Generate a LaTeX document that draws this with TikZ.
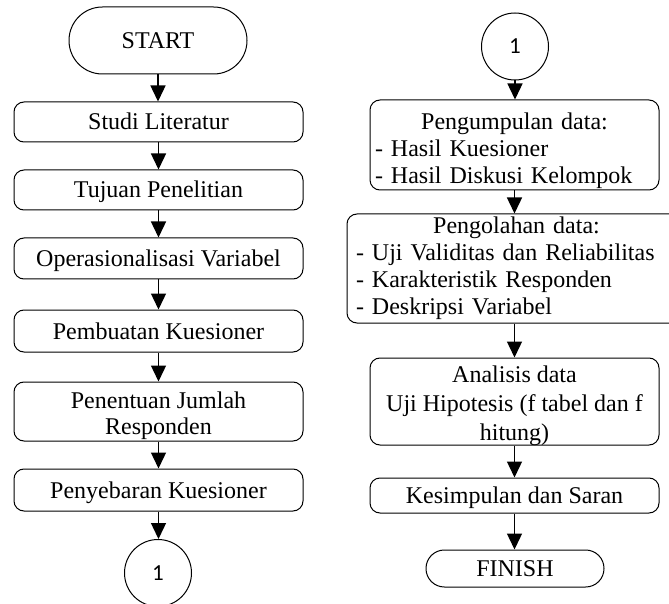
\documentclass[tikz,border=0pt]{standalone}
\usepackage{fontspec}
\setmainfont{Liberation Serif}
\newfontfamily\digitfont{Carlito}
\usetikzlibrary{arrows.meta}
\setlength\parindent{0pt}
\begin{document}
\begin{tikzpicture}[x=0.5pt,y=-0.5pt,
  font=\fontsize{12pt}{13.5pt}\selectfont,
  box/.style={draw, line width=0.5pt, rounded corners=5pt, inner sep=0pt,
    minimum width=144.5pt, text height=9pt, text depth=1pt},
  emptybox/.style={draw, line width=0.5pt, rounded corners=5pt, inner sep=0pt},
  txt/.style={inner sep=0pt},
  term/.style={draw, line width=0.5pt, inner sep=0pt, minimum width=89pt,
    text height=9pt, text depth=1pt},
  conn/.style={draw, circle, line width=0.5pt, minimum size=33.5pt, inner sep=0pt,
    font=\digitfont\fontsize{11.5pt}{12pt}\selectfont},
  arr/.style={-{Triangle[length=8pt,width=7.5pt]}, line width=0.7pt}]
\clip (0,0) rectangle (669,604);
% ---------- left column ----------
\node[term, minimum height=33.5pt, rounded corners=16.7pt] (start) at (158,40.5) {START};
\node[box, minimum height=20pt] (studi) at (158.5,122) {Studi Literatur};
\node[box, minimum height=20pt] (tujuan) at (158.5,190) {Tujuan Penelitian};
\node[box, minimum height=20.5pt] (opr) at (158.5,258.5) {Operasionalisasi Variabel};
\node[box, minimum height=21pt] (buat) at (158.5,331) {Pembuatan Kuesioner};
\node[emptybox, minimum width=144.5pt, minimum height=29.5pt] (tentu) at (158.5,411.5) {};
\node[txt, align=center, font=\fontsize{12pt}{13pt}\selectfont] (tentut) at (158.5,415.5) {Penentuan Jumlah\\Responden};
\node[box, minimum height=21pt] (sebar) at (158.5,490) {Penyebaran Kuesioner};
\node[conn] (c1a) at (158,573) {1};
\draw[arr] (start.south) -- (start.south |- studi.north);
\draw[arr] (studi.south) -- (tujuan.north);
\draw[arr] (tujuan.south) -- (opr.north);
\draw[arr] (opr.south) -- (buat.north);
\draw[arr] (buat.south) -- (tentu.north);
\draw[arr] (tentu.south) -- (sebar.north);
\draw[arr] (sebar.south) -- (sebar.south |- c1a.north);
% ---------- right column ----------
\node[conn] (c1b) at (515,46.5) {1};
\node[emptybox, minimum width=144.5pt, minimum height=45pt] (kumpul) at (514.5,145) {};
\node[txt, text width=139.5pt, align=left] (kumpult) at (514.5,151)
  {{\centering Pengumpulan data:\par}- Hasil Kuesioner\\- Hasil Diskusi Kelompok};
\node[emptybox, minimum width=200pt, minimum height=54.5pt] (olah) at (547,268.5) {};
\node[txt, text width=160.5pt, align=left] (olaht) at (516.5,268.5)
  {{\centering Pengolahan data:\par}- Uji Validitas dan Reliabilitas\\- Karakteristik Responden\\- Deskripsi Variabel};
\node[emptybox, minimum width=144.5pt, minimum height=43.5pt] (anal) at (514.5,401.5) {};
\node[txt, align=center, font=\fontsize{12pt}{14.5pt}\selectfont] (analt) at (514.5,405.5)
  {Analisis data\\Uji Hipotesis (f tabel dan f\\hitung)};
\node[box, minimum height=17.5pt] (simpul) at (514.5,495.5) {Kesimpulan dan Saran};
\node[term, minimum height=18.5pt, rounded corners=9.2pt] (finish) at (515,568.5) {FINISH};
\draw[arr] (c1b.south) -- (c1b.south |- kumpul.north);
\draw[arr] (kumpul.south) -- (kumpul.south |- olah.north);
\draw[arr] (anal.north |- olah.south) -- (anal.north);
\draw[arr] (anal.south) -- (simpul.north);
\draw[arr] (simpul.south) -- (simpul.south |- finish.north);
\end{tikzpicture}
\end{document}
